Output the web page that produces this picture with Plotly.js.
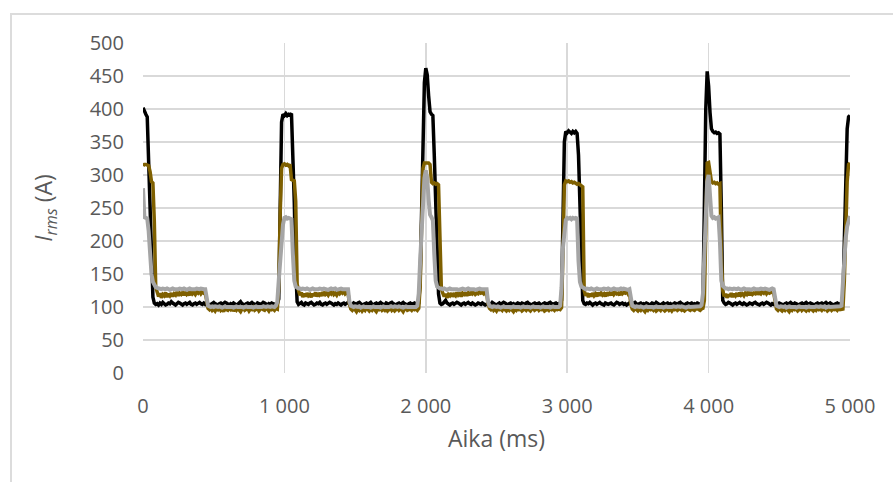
<!DOCTYPE html>
<html>
<head>
<meta charset="utf-8">
<script src="https://cdn.plot.ly/plotly-3.0.1.min.js"></script>
<style>
  html, body { margin: 0; padding: 0; background: #ffffff; }
  #wrap { position: relative; width: 893px; height: 482px; overflow: hidden; }
  #chart { position: absolute; left: 0; top: 0; width: 893px; height: 482px; }
  #frame { position: absolute; left: 10px; top: 13px; width: 900px; height: 500px;
           border: 2px solid #DCDCDC; pointer-events: none; }
</style>
</head>
<body>
<div id="wrap">
  <div id="chart"></div>
  <div id="frame"></div>
</div>
<script>
// Sampling of the RMS current records: one value every 10 ms, starting at 0 ms
const sampleStartMs = 0;
const sampleStepMs = 10;

// Phase current I_rms (A), black trace; each row covers 100 ms
const currentBlack = [
  402,396,392,388,320,255,180,115,106,104,
  105,103,106,104,107,105,103,104,106,105,
  108,106,104,103,105,107,106,104,103,105,
  106,104,105,107,104,103,105,106,104,105,
  107,105,104,106,104,106,105,103,104,106,
  107,105,104,103,105,106,104,105,107,106,
  104,103,105,104,106,105,103,104,106,108,
  105,104,103,105,106,104,105,107,105,104,
  103,106,105,104,105,107,106,104,103,105,
  104,106,105,104,105,105,112,250,380,392,
  390,393,390,392,391,393,330,258,160,108,
  104,105,107,104,103,106,105,104,106,107,
  105,103,104,106,105,107,104,103,105,106,
  104,105,107,106,104,103,105,104,106,105,
  103,105,106,104,105,107,105,104,103,106,
  105,104,106,107,105,103,104,105,106,104,
  105,107,104,103,105,106,104,105,107,105,
  104,103,106,105,104,106,107,105,104,103,
  105,106,104,105,107,105,104,103,105,106,
  104,105,106,104,105,106,140,260,380,440,
  462,452,420,396,392,390,330,250,180,120,
  106,104,105,107,110,106,104,103,105,106,
  104,105,107,106,104,103,105,106,104,105,
  107,105,104,106,105,103,104,106,105,104,
  106,105,103,104,106,105,104,107,105,104,
  103,105,106,104,105,107,106,104,103,105,
  106,104,105,103,104,106,105,104,106,105,
  104,106,107,105,104,103,105,106,104,105,
  106,104,103,105,106,105,104,106,107,105,
  104,105,106,104,105,106,110,240,350,366,
  364,367,365,363,366,364,366,363,330,257,
  170,110,105,104,106,105,107,104,103,105,
  106,104,105,107,105,104,103,106,105,104,
  105,106,104,103,105,107,106,104,105,106,
  104,105,103,104,106,105,104,106,107,105,
  103,105,106,104,105,104,106,105,103,104,
  106,105,104,107,105,104,103,105,106,104,
  105,106,104,105,103,104,106,105,104,106,
  107,105,104,103,105,106,104,105,106,104,
  105,104,106,105,104,105,110,250,400,457,
  435,395,370,366,364,365,363,364,362,250,
  110,106,104,105,107,106,104,103,105,106,
  104,105,107,105,104,106,105,103,104,106,
  105,104,106,107,105,104,103,105,106,104,
  105,107,106,104,103,105,104,106,105,104,
  106,105,104,103,105,106,104,105,107,105,
  104,106,105,104,103,105,106,104,105,107,
  105,104,106,105,104,103,105,106,104,105,
  106,104,105,107,105,104,106,105,103,104,
  105,106,104,105,104,110,200,300,370,388,
  390
];

// Phase current I_rms (A), olive trace
const currentOlive = [
  314,316,316,315,314,305,290,288,230,130,
  124,116,121,114,119,117,122,115,120,117,
  121,116,120,118,123,117,121,119,122,118,
  123,119,121,118,124,120,122,119,123,121,
  124,120,123,121,122,105,98,96,99,95,
  97,94,98,96,99,95,97,93,98,96,
  95,98,96,99,94,97,95,98,96,93,
  97,99,95,96,98,94,97,96,99,95,
  96,98,94,97,99,96,95,98,97,94,
  98,96,97,95,98,97,130,240,310,316,
  317,315,316,314,316,293,292,291,260,135,
  125,118,122,115,120,116,121,117,119,115,
  120,117,122,116,121,118,120,117,123,119,
  121,118,122,120,124,119,121,118,122,120,
  123,121,124,120,122,122,104,97,95,98,
  96,93,97,95,98,94,97,95,99,96,
  94,97,95,98,96,93,97,96,98,95,
  97,95,98,94,96,99,95,97,94,96,
  98,95,97,96,93,97,98,95,96,97,
  95,98,96,97,95,98,130,230,310,318,
  318,317,318,316,289,287,288,286,287,285,
  180,128,121,116,120,114,119,117,121,116,
  119,117,122,118,120,116,121,119,122,117,
  121,118,123,120,122,119,121,120,124,121,
  122,120,123,121,105,98,96,99,95,97,
  94,98,96,97,95,99,96,94,97,95,
  98,96,93,97,95,98,96,97,94,96,
  97,95,98,96,94,97,99,95,96,98,
  95,97,96,98,94,96,97,95,98,96,
  97,95,98,96,97,96,99,180,285,291,
  290,291,289,290,288,289,287,286,287,285,
  284,282,125,117,121,115,120,116,121,117,
  120,116,122,117,121,118,120,116,122,119,
  121,118,123,119,122,120,121,118,123,120,
  122,121,124,120,123,104,97,95,98,96,
  94,97,95,98,96,93,97,95,98,96,
  97,95,98,94,96,97,95,99,96,94,
  96,98,95,97,94,97,96,98,95,97,
  98,95,96,94,97,98,96,95,97,96,
  95,97,98,96,95,97,98,110,250,318,
  319,305,290,288,289,287,288,286,287,180,
  125,116,120,114,119,116,121,115,120,117,
  121,116,122,118,120,117,121,119,123,118,
  122,119,121,120,124,119,122,120,123,121,
  124,120,123,121,122,123,122,104,97,95,
  98,96,94,97,95,98,96,93,97,95,
  98,96,97,94,96,99,95,97,96,94,
  97,95,98,96,94,97,95,98,96,97,
  95,98,96,97,94,96,98,95,97,96,
  97,95,98,96,97,97,140,220,290,316,
  318
];

// Phase current I_rms (A), grey trace
const currentGrey = [
  280,236,235,234,215,180,150,138,133,130,
  129,128,128,127,128,127,127,128,127,126,
  127,128,127,127,126,127,128,127,127,128,
  127,126,127,128,127,127,126,127,128,127,
  127,128,127,127,127,110,102,101,100,101,
  100,101,100,100,101,100,99,100,101,100,
  100,100,101,100,99,100,101,100,100,101,
  100,99,100,101,100,100,101,100,99,100,
  101,100,100,99,100,101,100,100,101,100,
  100,101,100,100,102,108,140,175,200,225,
  235,236,234,235,234,233,180,140,131,129,
  128,128,127,128,127,127,128,127,126,127,
  128,127,127,126,127,128,127,127,128,127,
  127,126,127,128,127,127,128,126,127,127,
  128,127,127,126,127,127,108,102,101,100,
  101,100,100,101,99,100,101,100,100,101,
  100,99,100,101,100,100,101,100,99,100,
  101,100,100,99,100,101,100,100,101,100,
  100,101,100,100,99,100,101,100,100,101,
  100,101,100,100,102,120,170,220,265,295,
  307,295,262,240,236,231,180,140,131,129,
  128,128,127,128,127,126,127,128,127,127,
  127,128,127,126,127,127,128,127,126,127,
  128,127,127,128,127,126,127,127,128,127,
  127,128,127,127,108,102,101,100,101,100,
  100,101,100,99,100,101,100,100,101,100,
  99,100,101,100,100,101,100,99,100,101,
  100,100,101,100,99,100,101,100,100,101,
  100,99,100,101,100,100,101,100,99,100,
  101,100,100,101,100,102,130,190,220,232,
  235,234,235,233,235,234,235,234,170,138,
  131,129,128,127,128,127,127,128,127,126,
  127,128,127,127,126,127,128,127,127,128,
  127,126,127,128,127,127,126,127,128,127,
  128,127,127,126,127,108,102,101,100,101,
  100,100,101,100,99,100,101,100,100,101,
  100,99,100,101,100,100,101,100,99,100,
  101,100,100,99,100,101,100,100,101,100,
  100,101,100,100,99,100,101,100,100,101,
  100,100,101,100,101,103,120,180,250,290,
  300,275,238,235,236,234,235,236,200,140,
  132,129,128,128,127,128,127,127,128,127,
  127,128,127,126,127,128,127,127,128,127,
  126,127,128,127,127,126,127,128,127,127,
  128,127,127,126,127,128,127,108,102,101,
  100,101,100,100,101,99,100,101,100,100,
  101,100,99,100,101,100,100,101,100,99,
  100,101,100,100,99,100,101,100,100,101,
  100,100,101,99,100,101,100,100,101,100,
  101,100,100,101,102,140,185,205,222,232,
  238
];

// Axis ticks
const timeTicks = [0, 1000, 2000, 3000, 4000, 5000];
const timeTickLabels = ['0', '1 000', '2 000', '3 000', '4 000', '5 000'];
const currentTicks = [0, 50, 100, 150, 200, 250, 300, 350, 400, 450, 500];

const fontFamily = '"Open Sans", "Noto Sans", "DejaVu Sans", sans-serif';
const textColor = '#595959';
const gridColor = '#D9D9D9';

function trace(values, color, width) {
  return {
    type: 'scatter',
    mode: 'lines',
    x0: sampleStartMs,
    dx: sampleStepMs,
    y: values,
    line: { color: color, width: width, shape: 'linear' },
    hoverinfo: 'skip',
    showlegend: false
  };
}

const data = [
  trace(currentBlack, '#000000', 3.5),
  trace(currentOlive, '#7F6000', 3.5),
  trace(currentGrey, '#A5A5A5', 4)
];

const layout = {
  width: 893,
  height: 482,
  margin: { l: 143, r: 43, t: 43, b: 109, pad: 0 },
  paper_bgcolor: 'rgba(0,0,0,0)',
  plot_bgcolor: '#ffffff',
  font: { family: fontFamily, color: textColor, size: 20 },
  showlegend: false,
  xaxis: {
    range: [0, 5000],
    tickmode: 'array',
    tickvals: timeTicks,
    ticktext: timeTickLabels,
    ticks: '',
    ticklabelstandoff: 19,
    showgrid: true,
    gridcolor: gridColor,
    gridwidth: 1.5,
    zeroline: false,
    showline: false,
    tickfont: { family: fontFamily, color: textColor, size: 20 },
    title: { text: 'Aika (ms)', font: { family: fontFamily, color: textColor, size: 23 }, standoff: 12 }
  },
  yaxis: {
    range: [0, 500],
    tickmode: 'array',
    tickvals: currentTicks,
    ticks: '',
    ticklabelstandoff: 18,
    showgrid: true,
    gridcolor: gridColor,
    gridwidth: 1.5,
    zeroline: false,
    showline: false,
    tickfont: { family: fontFamily, color: textColor, size: 20 },
    title: { text: '<i>I<sub>rms</sub></i> (A)', font: { family: fontFamily, color: textColor, size: 23 }, standoff: 30 }
  }
};

Plotly.newPlot('chart', data, layout, { staticPlot: true, displayModeBar: false });
</script>
</body>
</html>
